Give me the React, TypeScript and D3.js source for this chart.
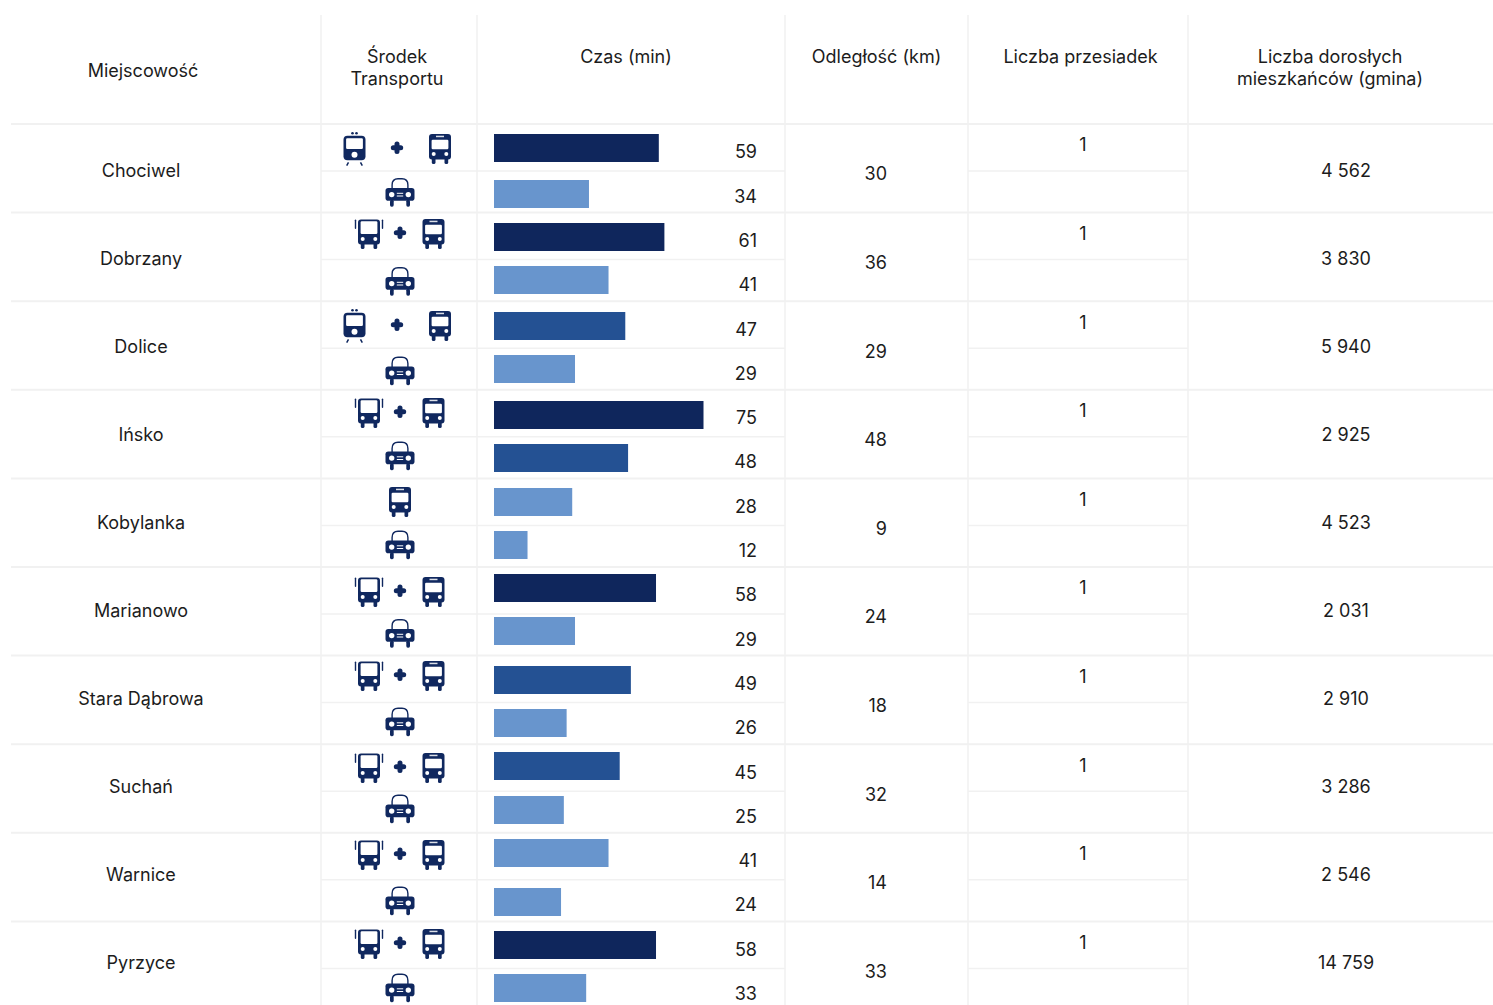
import React from "react";
import * as d3 from "d3";

// Table contents
const towns = ["Chociwel", "Dobrzany", "Dolice", "Ińsko", "Kobylanka", "Marianowo", "Stara Dąbrowa", "Suchań", "Warnice", "Pyrzyce"];
const transitMinutes = [59, 61, 47, 75, 28, 58, 49, 45, 41, 58];
const carMinutes = [34, 41, 29, 48, 12, 29, 26, 25, 24, 33];
const distanceKm = [30, 36, 29, 48, 9, 24, 18, 32, 14, 33];
const transfers = [1, 1, 1, 1, 1, 1, 1, 1, 1, 1];
const adultResidents = [4562, 3830, 5940, 2925, 4523, 2031, 2910, 3286, 2546, 14759];
const transitRoutes = [
  ["train", "bus"], ["coach", "bus"], ["train", "bus"], ["coach", "bus"], ["bus"],
  ["coach", "bus"], ["coach", "bus"], ["coach", "bus"], ["coach", "bus"], ["coach", "bus"],
];

const headers = [
  { lines: ["Miejscowość"], x: 143, y: 70 },
  { lines: ["Środek", "Transportu"], x: 397, y: 56 },
  { lines: ["Czas (min)"], x: 626, y: 56 },
  { lines: ["Odległość (km)"], x: 876.5, y: 56 },
  { lines: ["Liczba przesiadek"], x: 1080.5, y: 56 },
  { lines: ["Liczba dorosłych", "mieszkańców (gmina)"], x: 1330, y: 56 },
];

// Layout of the grid
const W = 1493;
const H = 1005;
const columnEdges = [321, 477, 785, 968, 1188];
const gridColor = "#f1f1f1";
const inkColor = "#1c1c1c";
const iconColor = "#10285f";
const FONT = "Inter, 'DM Sans', sans-serif";

// Hand-placed vertical nudges inside each row, as laid out in the dashboard
const transitBarInset = [10, 10.4, 10.8, 11.2, 9.6, 7, 10.4, 7.8, 6.2, 9.6];
const carBarInset = [56, 53.4, 53.8, 54.2, 52.6, 50, 53.4, 51.8, 55.2, 52.6];
const transitIconInset = [25, 21.4, 24.8, 23.2, 23.6, 25, 20.4, 23.8, 22.2, 22.6];
const carIconInset = [68.5, 68.9, 69.8, 66.2, 66.6, 66.5, 66.4, 64.8, 68.2, 66.6];

const rowScale = d3.scaleLinear().domain([0, 10]).range([124, 124 + 88.6 * 10]);
const subRowOffset = 47;
const minutesScale = d3.scaleLinear().domain([0, 75]).range([0, 209.5]);
const barColor = d3.scaleThreshold<number, string>().domain([42, 50]).range(["#6895cd", "#245193", "#0f265c"]);
const barLabelY = d3.scaleLinear().domain([0, 19]).range([152, 993.7]);
const townY = d3.scaleLinear().domain([0, 9]).range([171, 963]);
const residentsFormat = d3.formatLocale({ decimal: ",", thousands: " ", grouping: [3], currency: ["", ""] }).format(",d");

const barHeight = 28;

function Wheels({ y = 10, h = 5, inner = 4.5, outer = 8.2 }) {
  return (
    <g fill={iconColor}>
      <rect x={-outer} y={y - 1} width={outer - inner} height={h + 1} rx={1.6} />
      <rect x={inner} y={y - 1} width={outer - inner} height={h + 1} rx={1.6} />
    </g>
  );
}

function Bus() {
  return (
    <g>
      <rect x={-11} y={-15} width={22} height={25.5} rx={3} fill={iconColor} />
      <rect x={-4} y={-13.3} width={8} height={1.5} fill="#fff" opacity={0.85} />
      <rect x={-8.4} y={-9.2} width={16.8} height={9.4} rx={1.2} fill="#fff" />
      <circle cx={-6.3} cy={4.9} r={2} fill="#fff" />
      <circle cx={6.3} cy={4.9} r={2} fill="#fff" />
      <Wheels />
    </g>
  );
}

function Coach() {
  return (
    <g>
      <rect x={-11} y={-14.5} width={22} height={25} rx={3} fill={iconColor} />
      <rect x={-8.4} y={-12.7} width={16.8} height={12.7} rx={1.2} fill="#fff" />
      <circle cx={-6.3} cy={5} r={2} fill="#fff" />
      <circle cx={6.3} cy={5} r={2} fill="#fff" />
      <rect x={-14.2} y={-14.5} width={1.4} height={9.5} rx={0.7} fill={iconColor} />
      <rect x={12.8} y={-14.5} width={1.4} height={9.5} rx={0.7} fill={iconColor} />
      <Wheels />
    </g>
  );
}

function Train() {
  return (
    <g>
      <circle cx={-2} cy={-15.7} r={1.3} fill={iconColor} />
      <circle cx={2} cy={-15.7} r={1.3} fill={iconColor} />
      <rect x={-11} y={-13.3} width={22} height={24.5} rx={4} fill={iconColor} />
      <rect x={-8.4} y={-10.7} width={16.8} height={10.7} rx={1.2} fill="#fff" />
      <circle cx={0} cy={5.7} r={3} fill="#fff" />
      <path d="M-6 13.3 L-7.8 16.7 M6 13.3 L7.8 16.7" stroke={iconColor} strokeWidth={1.5} fill="none" />
    </g>
  );
}

function Car() {
  return (
    <g>
      <path d="M-7.9 -4 V-7.5 Q-7.9 -13.7 -2 -13.7 H2 Q7.9 -13.7 7.9 -7.5 V-4" fill="none" stroke={iconColor} strokeWidth={1.4} />
      <rect x={-14.5} y={-4.6} width={29} height={12.8} rx={2.8} fill={iconColor} />
      <circle cx={-8.3} cy={2.1} r={2.7} fill="#fff" />
      <circle cx={8.3} cy={2.1} r={2.7} fill="#fff" />
      <rect x={-3.2} y={0.3} width={6.4} height={1} fill="#fff" />
      <rect x={-3.2} y={3} width={6.4} height={1} fill="#fff" />
      <Wheels y={8.2} h={6} inner={6.3} outer={10} />
    </g>
  );
}

function Plus() {
  return (
    <path d="M-3.7 0 H3.7 M0 -3.7 V3.7" stroke={iconColor} strokeWidth={5} strokeLinecap="round" fill="none" />
  );
}

const icons: Record<string, () => React.ReactElement> = { bus: Bus, coach: Coach, train: Train };

// Horizontal slots for the route pictograms, by the first vehicle of the route
const routeSlots: Record<string, { first: number; plus: number; last: number }> = {
  train: { first: 354.5, plus: 397, last: 440 },
  coach: { first: 369, plus: 400, last: 433.5 },
};

function RouteIcons({ route, y }: { route: string[]; y: number }) {
  if (route.length === 1) {
    const Only = icons[route[0]];
    return <g transform={`translate(400,${y})`}><Only /></g>;
  }
  const slot = routeSlots[route[0]];
  const First = icons[route[0]];
  const Last = icons[route[1]];
  return (
    <g>
      <g transform={`translate(${slot.first},${y})`}><First /></g>
      <g transform={`translate(${slot.plus},${y - 1.2})`}><Plus /></g>
      <g transform={`translate(${slot.last},${y})`}><Last /></g>
    </g>
  );
}

export default function App() {
  return (
    <svg
      width={W}
      height={H}
      viewBox={`0 0 ${W} ${H}`}
      style={{ position: "absolute", left: 0, top: 0, display: "block", background: "#fff" }}
      fontFamily={FONT}
      fontSize={18}
      fill={inkColor}
    >
      {/* grid */}
      {columnEdges.map((x) => (
        <line key={x} x1={x} x2={x} y1={15} y2={H} stroke={gridColor} strokeWidth={1.5} />
      ))}
      {towns.map((t, i) => (
        <g key={t}>
          <line x1={11} x2={W} y1={rowScale(i)} y2={rowScale(i)} stroke={gridColor} strokeWidth={2} />
          <line x1={321} x2={785} y1={rowScale(i) + subRowOffset} y2={rowScale(i) + subRowOffset} stroke={gridColor} strokeWidth={1.5} />
          <line x1={968} x2={1188} y1={rowScale(i) + subRowOffset} y2={rowScale(i) + subRowOffset} stroke={gridColor} strokeWidth={1.5} />
        </g>
      ))}

      {/* column headers */}
      {headers.map((h) => (
        <text key={h.lines[0]} textAnchor="middle" x={h.x} y={h.y}>
          {h.lines.map((line, k) => (
            <tspan key={line} x={h.x} dy={k === 0 ? 6.5 : 22}>{line}</tspan>
          ))}
        </text>
      ))}

      {towns.map((town, i) => {
        const top = rowScale(i);
        return (
          <g key={town}>
            <text x={141} y={townY(i)} dy="0.35em" textAnchor="middle">{town}</text>

            <RouteIcons route={transitRoutes[i]} y={top + transitIconInset[i]} />
            <g transform={`translate(400,${top + carIconInset[i]})`}><Car /></g>

            <rect x={494} y={top + transitBarInset[i]} width={minutesScale(transitMinutes[i])} height={barHeight} fill={barColor(transitMinutes[i])} />
            <rect x={494} y={top + carBarInset[i]} width={minutesScale(carMinutes[i])} height={barHeight} fill={barColor(carMinutes[i])} />
            <text x={757} y={barLabelY(i * 2)} dy="0.35em" textAnchor="end">{transitMinutes[i]}</text>
            <text x={757} y={barLabelY(i * 2 + 1)} dy="0.35em" textAnchor="end">{carMinutes[i]}</text>

            <text x={887} y={top + 50} dy="0.35em" textAnchor="end">{distanceKm[i]}</text>
            <text x={1083} y={top + 21} dy="0.35em" textAnchor="middle">{transfers[i]}</text>
            <text x={1346} y={townY(i) - 0.5} dy="0.35em" textAnchor="middle">{residentsFormat(adultResidents[i])}</text>
          </g>
        );
      })}
    </svg>
  );
}
